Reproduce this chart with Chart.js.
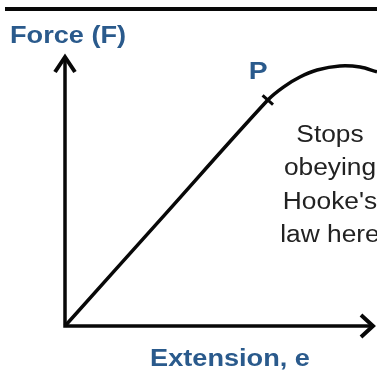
<!DOCTYPE html>
<html>
<head>
<meta charset="utf-8">
<script src="https://cdn.jsdelivr.net/npm/chart.js@4/dist/chart.umd.min.js"></script>
<style>
	html, body { margin: 0; padding: 0; background: #fff; overflow: hidden; }
</style>
</head>
<body>
<canvas id="hookeChart" width="377" height="371"></canvas>
<script>
	// force against extension (P is index 2)
	const extension = [0, 3.05, 6.5, 7.0, 7.53, 8.08, 8.81, 9.46, 10];
	const force = [0, 3.93, 8.37, 8.85, 9.22, 9.48, 9.63, 9.59, 9.41];
	const pIndex = 2;

	const pointLabel = "P";
	const xTitle = "Extension, e";
	const yTitle = "Force (F)";
	const noteLines = ["Stops", "obeying", "Hooke's", "law here"];

	const INK = "#080808";
	const BLUE = "#2a5a8c";

	function wideText(ctx, str, x, y, font, color, align, sx) {
		ctx.save();
		ctx.translate(x, y);
		ctx.scale(sx, 1);
		ctx.font = font;
		ctx.fillStyle = color;
		ctx.textAlign = align;
		ctx.textBaseline = "alphabetic";
		ctx.fillText(str, 0, 0);
		ctx.restore();
	}

	const axesPlugin = {
		id: "hookeAxes",
		beforeDatasetsDraw(chart) {
			const ctx = chart.ctx;
			const xs = chart.scales.x, ys = chart.scales.y;
			const ox = xs.getPixelForValue(0), oy = ys.getPixelForValue(0);
			const topY = chart.chartArea.top - 1;
			const rightX = chart.width - 2;

			ctx.save();
			// bar across the top
			ctx.fillStyle = INK;
			ctx.fillRect(5, 7, chart.width - 5, 4);

			ctx.strokeStyle = INK;
			ctx.lineWidth = 3.5;
			ctx.beginPath();
			ctx.moveTo(ox, oy + 1.75);
			ctx.lineTo(ox, topY + 2);
			ctx.moveTo(ox - 1.75, oy);
			ctx.lineTo(rightX - 2, oy);
			ctx.stroke();

			// arrow heads
			ctx.lineWidth = 4;
			ctx.beginPath();
			ctx.moveTo(ox - 10, topY + 17);
			ctx.lineTo(ox, topY + 2);
			ctx.lineTo(ox + 10, topY + 17);
			ctx.moveTo(rightX - 14, oy - 11);
			ctx.lineTo(rightX - 2, oy);
			ctx.lineTo(rightX - 14, oy + 11);
			ctx.stroke();
			ctx.restore();
		},
		afterDatasetsDraw(chart) {
			const ctx = chart.ctx;
			const xs = chart.scales.x, ys = chart.scales.y;

			// tick mark across the line at P
			const px = xs.getPixelForValue(extension[pIndex]);
			const py = ys.getPixelForValue(force[pIndex]);
			const dx = px - xs.getPixelForValue(extension[0]);
			const dy = py - ys.getPixelForValue(force[0]);
			const len = Math.hypot(dx, dy);
			const nx = -dy / len, ny = dx / len;
			ctx.save();
			ctx.strokeStyle = INK;
			ctx.lineWidth = 3;
			ctx.beginPath();
			ctx.moveTo(px - nx * 7, py - ny * 7);
			ctx.lineTo(px + nx * 7, py + ny * 7);
			ctx.stroke();
			ctx.restore();

			const bold = "bold 23px 'Liberation Sans', Arial, sans-serif";
			wideText(ctx, pointLabel, px - 19, py - 21, "bold 24px 'Liberation Sans', Arial, sans-serif", BLUE, "left", 1.18);
			wideText(ctx, yTitle, 10, 43, bold, BLUE, "left", 1.18);
			wideText(ctx, xTitle, 230, 366, bold, BLUE, "center", 1.18);

			const note = "23.5px 'Liberation Sans', Arial, sans-serif";
			const baselines = [142, 175, 209, 242];
			noteLines.forEach((line, i) => {
				wideText(ctx, line, 330, baselines[i], note, "#222", "center", 1.12);
			});
		}
	};

	new Chart(document.getElementById("hookeChart"), {
		type: "scatter",
		data: {
			datasets: [{
				data: extension.map((x, i) => ({ x: x, y: force[i] })),
				showLine: true,
				borderColor: INK,
				borderWidth: 3.5,
				pointRadius: 0,
				tension: 0.35,
				clip: false
			}]
		},
		options: {
			responsive: false,
			animation: false,
			layout: { padding: { left: 65, right: 0, top: 56, bottom: 45 } },
			plugins: {
				legend: { display: false },
				tooltip: { enabled: false }
			},
			scales: {
				x: { type: "linear", min: 0, max: 10, display: false },
				y: { type: "linear", min: 0, max: 10, display: false }
			}
		},
		plugins: [axesPlugin]
	});
</script>
</body>
</html>
